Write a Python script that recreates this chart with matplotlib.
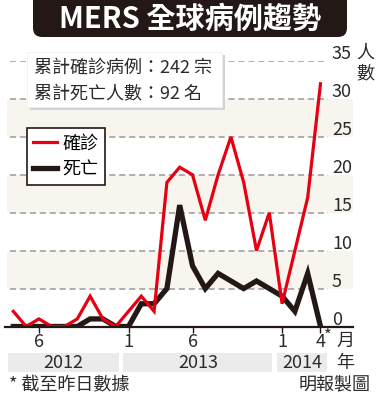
import matplotlib.pyplot as plt
import pandas as pd
from matplotlib.patches import FancyBboxPatch, Rectangle
from matplotlib.transforms import blended_transform_factory

plt.rcParams["font.family"] = ["Noto Sans CJK TC", "DejaVu Sans"]

# monthly MERS cases / deaths, Apr 2012 - Apr 2014 (April partial)
MONTHS = pd.period_range("2012-04", "2014-04", freq="M")
CASES = [2, 0, 1, 0, 0, 1, 4, 1, 0, 2, 4, 2, 19, 21, 20, 14, 20, 25, 19, 10, 15, 3, 10, 17, 32]
DEATHS = [0, 0, 0, 0, 0, 0, 1, 1, 0, 0, 3, 3, 5, 16, 8, 5, 7, 6, 5, 6, 5, 4, 2, 7, 0]
TICK_MONTHS = ["2012-06", "2013-01", "2013-06", "2014-01", "2014-04"]
TICK_LABELS = ["6", "1", "6", "1", "4"]
YEARS = [2012, 2013, 2014]
Y_TICKS = [0, 5, 10, 15, 20, 25, 30, 35]
TOTAL_CASES = 242
TOTAL_DEATHS = 92

RED = "#e60012"
INK = "#231815"
BEIGE = "#f8f5ef"
TEXT = "#2b2b2b"

W, H = 379, 399
fig = plt.figure(figsize=(W / 100, H / 100), dpi=100)
ax = fig.add_axes([5 / W, 1 - 326.5 / H, 348 / W, 265.5 / H])
# overlay axes in pixel coordinates (y grows downwards) for the annotations
ov = fig.add_axes([0, 0, 1, 1], zorder=3)
ov.set_xlim(0, W)
ov.set_ylim(H, 0)
ov.axis("off")

x = list(range(len(MONTHS)))
ax.set_xlim(-0.65, 26.54)
ax.set_ylim(0, 35)

for lo in (5, 15, 25):
    ax.axhspan(lo, lo + 5, xmin=0.006, xmax=1, color=BEIGE, lw=0, zorder=0)
for v in Y_TICKS[1:]:
    ax.axhline(v, xmin=5 / 348, xmax=323 / 348, color="#9a9a9a", lw=1.1,
               ls=(0, (4, 2.5)), zorder=1)

ylab = blended_transform_factory(ov.transData, ax.transData)
for v in Y_TICKS:
    ax.text(332, v + 0.25, str(v), transform=ylab, ha="left", va="baseline",
            fontsize=13, color=TEXT)

black_line, = ax.plot(x, DEATHS, color=INK, lw=3.8, solid_joinstyle="miter", zorder=3)
red_line, = ax.plot(x, CASES, color=RED, lw=2.3, solid_joinstyle="miter", zorder=4)

for s in ("top", "left", "right"):
    ax.spines[s].set_visible(False)
ax.spines["bottom"].set_color(INK)
ax.spines["bottom"].set_linewidth(1.6)
ax.spines["bottom"].set_zorder(5)
ax.set_yticks([])
ax.set_xticks([MONTHS.get_loc(pd.Period(m, "M")) for m in TICK_MONTHS])
ax.set_xticklabels(TICK_LABELS)
ax.tick_params(axis="x", length=4, width=1, color=INK, pad=1, labelsize=13, labelcolor=TEXT)

leg = ax.legend([red_line, black_line], ["確診", "死亡"], loc="upper left",
                bbox_to_anchor=(27, 128), bbox_transform=ov.transData,
                frameon=True, fancybox=False, edgecolor=INK, framealpha=1,
                borderaxespad=0, borderpad=0.35, handlelength=1.3,
                handletextpad=0.3, labelspacing=0.45, fontsize=13)
leg.get_frame().set_linewidth(1.2)

# year bands under the month labels
yb = blended_transform_factory(ax.transData, ov.transData)
for year in YEARS:
    idx = [i for i, m in enumerate(MONTHS) if m.year == year]
    start = max(idx[0] - 0.4, -0.72)
    end = idx[-1] + (0.5 if year == YEARS[-1] else 0.25)
    ax.add_patch(Rectangle((start, 352.5), end - start, 19, transform=yb,
                           color="#ebebeb", lw=0, clip_on=False))
    ax.text((start + end) / 2, 362.5, str(year), transform=yb, ha="center", va="center",
            fontsize=13, color=TEXT)

# title banner
ov.add_patch(FancyBboxPatch((33, -12), 314, 49, boxstyle="round,pad=0,rounding_size=9",
                            fc=INK, ec="none"))
ov.text(190, 19, "MERS 全球病例趨勢", ha="center", va="center", fontsize=21,
        weight="bold", color="white")

# totals box
ov.add_patch(Rectangle((29.5, 54.5), 195, 55, fc="#d4d4d4", ec="none"))
ov.add_patch(Rectangle((27, 52), 195, 55, fc="white", ec="#eeeeee", lw=0.5))
ov.text(34, 68, f"累計確診病例：{TOTAL_CASES} 宗", ha="left", va="center",
        fontsize=13, color=TEXT)
ov.text(34, 94, f"累計死亡人數：{TOTAL_DEATHS} 名", ha="left", va="center",
        fontsize=13, color=TEXT)

ov.text(365, 53, "人", ha="center", va="center", fontsize=13, color=TEXT)
ov.text(365, 73, "數", ha="center", va="center", fontsize=13, color=TEXT)
ov.text(324, 336, "*", ha="left", va="center", fontsize=12, color=TEXT)
ov.text(345, 341, "月", ha="center", va="center", fontsize=13, color=TEXT)
ov.text(345, 363, "年", ha="center", va="center", fontsize=13, color=TEXT)
ov.text(9, 385, "* 截至昨日數據", ha="left", va="center", fontsize=13, color=TEXT)
ov.text(371, 385, "明報製圖", ha="right", va="center", fontsize=13, color=TEXT)

fig.savefig("out.png", dpi=100, facecolor="white")
